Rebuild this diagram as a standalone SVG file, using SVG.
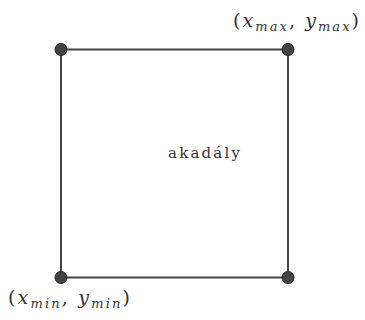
<svg xmlns="http://www.w3.org/2000/svg" width="365" height="320" viewBox="0 0 365 320">
<style>
.edge{stroke:#444;stroke-width:2;fill:none}
.pt{fill:#444;stroke:#222;stroke-width:1}
.lbl{font-family:"DejaVu Serif","Liberation Serif",serif;font-size:19px;fill:#333}
.m{font-style:italic}
.sub{font-size:13px;font-style:italic}
.txt{font-family:"DejaVu Serif","Liberation Serif",serif;font-size:15px;fill:#333}
</style>
<rect width="365" height="320" fill="#fff"/>
<g id="edges">
<line class="edge" x1="61" y1="49.5" x2="288" y2="49.5"/>
<line class="edge" x1="288" y1="49.5" x2="288" y2="277.5"/>
<line class="edge" x1="288" y1="277.5" x2="61" y2="277.5"/>
<line class="edge" x1="61" y1="277.5" x2="61" y2="49.5"/>
</g>
<g id="tl"><circle class="pt" cx="61" cy="49.5" r="6"/></g>
<g id="tr"><circle class="pt" cx="288" cy="49.5" r="6"/>
<text class="lbl" x="233" y="27" textLength="126" lengthAdjust="spacing">(<tspan class="m">x</tspan><tspan class="sub" dy="4">max</tspan><tspan dy="-4">, </tspan><tspan class="m">y</tspan><tspan class="sub" dy="4">max</tspan><tspan dy="-4">)</tspan></text></g>
<g id="bl"><circle class="pt" cx="61" cy="277.5" r="6"/>
<text class="lbl" x="8" y="304" textLength="122" lengthAdjust="spacing">(<tspan class="m">x</tspan><tspan class="sub" dy="4">min</tspan><tspan dy="-4">, </tspan><tspan class="m">y</tspan><tspan class="sub" dy="4">min</tspan><tspan dy="-4">)</tspan></text></g>
<g id="br"><circle class="pt" cx="288" cy="277.5" r="6"/></g>
<g id="obstacle"><text class="txt" x="168" y="158" textLength="72" lengthAdjust="spacing">akadály</text></g>
</svg>
